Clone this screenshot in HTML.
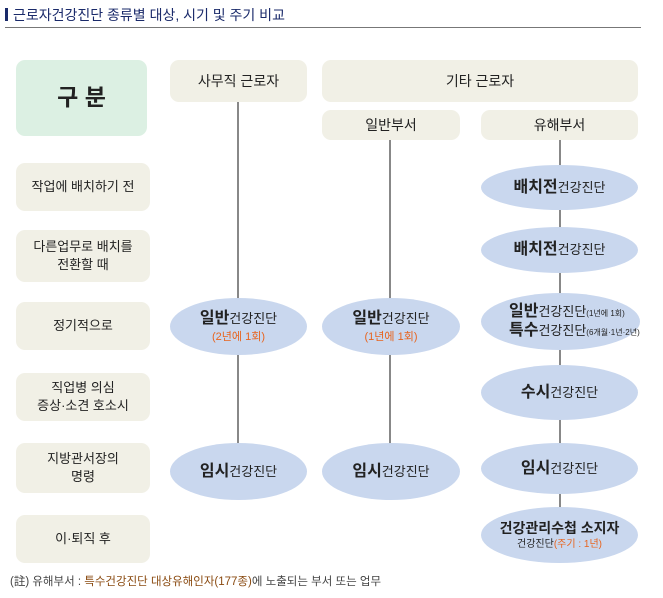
<!DOCTYPE html>
<html><head><meta charset="utf-8"><style>
body{margin:0;width:663px;height:598px;background:#fff;position:relative;font-family:"Liberation Sans","Noto Sans CJK KR",sans-serif;overflow:hidden}
.a{position:absolute;display:flex;align-items:center;justify-content:center;text-align:center;color:#222;font-size:13px;line-height:1.35}
.b{background:#f1f0e6;border-radius:9px}
.e{background:#c9d7ee;border-radius:50%;flex-direction:column}
.l{position:absolute;width:2px;background:#888}
.big{font-size:16px;font-weight:bold}
.o{color:#e8641e;font-size:10px}
</style></head><body>
<div style="position:absolute;left:5px;top:8px;width:3px;height:13px;background:#1a2a6a"></div>
<div style="position:absolute;left:13px;top:5px;font-size:14px;color:#1a2a6a">근로자건강진단 종류별 대상, 시기 및 주기 비교</div>
<div style="position:absolute;left:5px;top:27px;width:636px;height:1px;background:#777"></div>

<div class="l" style="left:237px;top:102px;height:345px"></div>
<div class="l" style="left:389px;top:140px;height:305px"></div>
<div class="l" style="left:559px;top:140px;height:370px"></div>

<div class="a" style="left:16px;top:60px;width:131px;height:76px;background:#dcf0e3;border-radius:9px;font-size:23px;font-weight:bold">구 분</div>
<div class="a b" style="left:170px;top:60px;width:137px;height:42px;font-size:14px">사무직 근로자</div>
<div class="a b" style="left:322px;top:60px;width:316px;height:42px;font-size:14px">기타 근로자</div>
<div class="a b" style="left:322px;top:110px;width:138px;height:30px;font-size:14px">일반부서</div>
<div class="a b" style="left:481px;top:110px;width:157px;height:30px;font-size:14px">유해부서</div>

<div class="a b" style="left:16px;top:163px;width:134px;height:48px">작업에 배치하기 전</div>
<div class="a b" style="left:16px;top:230px;width:134px;height:52px">다른업무로 배치를<br>전환할 때</div>
<div class="a b" style="left:16px;top:302px;width:134px;height:48px">정기적으로</div>
<div class="a b" style="left:16px;top:373px;width:134px;height:48px">직업병 의심<br>증상·소견 호소시</div>
<div class="a b" style="left:16px;top:443px;width:134px;height:50px">지방관서장의<br>명령</div>
<div class="a b" style="left:16px;top:515px;width:134px;height:48px">이·퇴직 후</div>

<div class="a e" style="left:481px;top:165px;width:157px;height:45px"><div><span class="big">배치전</span>건강진단</div></div>
<div class="a e" style="left:481px;top:227px;width:157px;height:46px"><div><span class="big">배치전</span>건강진단</div></div>
<div class="a e" style="left:170px;top:298px;width:137px;height:57px"><div><span class="big">일반</span>건강진단</div><div class="o" style="font-size:11px">(2년에 1회)</div></div>
<div class="a e" style="left:322px;top:298px;width:138px;height:57px"><div><span class="big">일반</span>건강진단</div><div class="o" style="font-size:11px">(1년에 1회)</div></div>
<div class="a e" style="left:481px;top:293px;width:159px;height:57px;align-items:flex-start;padding-left:0"><div style="margin-left:28px;line-height:1.15;text-align:left"><span class="big">일반</span>건강진단<span style="font-size:8px">(1년에 1회)</span><br><span class="big">특수</span>건강진단<span style="font-size:8px">(6개월·1년·2년)</span></div></div>
<div class="a e" style="left:481px;top:365px;width:157px;height:55px"><div><span class="big">수시</span>건강진단</div></div>
<div class="a e" style="left:170px;top:443px;width:137px;height:57px"><div><span class="big">임시</span>건강진단</div></div>
<div class="a e" style="left:322px;top:443px;width:138px;height:57px"><div><span class="big">임시</span>건강진단</div></div>
<div class="a e" style="left:481px;top:443px;width:157px;height:51px"><div><span class="big">임시</span>건강진단</div></div>
<div class="a e" style="left:481px;top:507px;width:157px;height:56px"><div style="font-size:14px;font-weight:bold">건강관리수첩 소지자</div><div style="font-size:10px">건강진단<span class="o">(주기 : 1년)</span></div></div>

<div style="position:absolute;left:10px;top:573px;font-size:11.5px;color:#444">(註) 유해부서 : <span style="color:#8a4a10">특수건강진단 대상유해인자(177종)</span>에 노출되는 부서 또는 업무</div>
</body></html>
